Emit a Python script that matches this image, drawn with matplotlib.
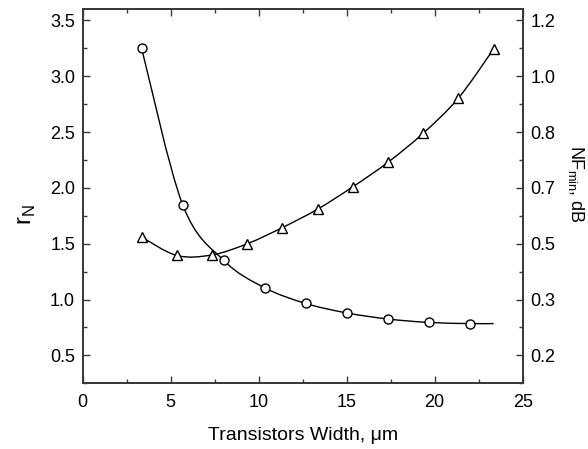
import numpy as np
import matplotlib
matplotlib.use("Agg")
import matplotlib.pyplot as plt
from matplotlib.path import Path
from matplotlib.patches import PathPatch
from matplotlib.ticker import MultipleLocator, FixedLocator, FixedFormatter

plt.rcParams['font.family'] = ['Liberation Sans', 'DejaVu Sans']

# r_N (left axis) - circles
circ_x = [3.35, 5.68, 8.02, 10.35, 12.68, 15.02, 17.35, 19.68, 22.02]
circ_y = [3.25, 1.85, 1.35, 1.105, 0.965, 0.88, 0.826, 0.795, 0.785]

# NF_min (right axis, drawn in left-axis units) - triangles
tri_x = [3.35, 5.35, 7.35, 9.35, 11.35, 13.35, 15.35, 17.35, 19.35, 21.35, 23.35]
tri_y = [1.56, 1.395, 1.40, 1.50, 1.645, 1.81, 2.01, 2.23, 2.49, 2.805, 3.245]

left_ticks = [0.5, 1.0, 1.5, 2.0, 2.5, 3.0, 3.5]
right_labels = ['0.2', '0.3', '0.5', '0.7', '0.8', '1.0', '1.2']


def smooth_path(x, y):
    """Catmull-Rom curve through the points, as cubic Bezier path."""
    pts = np.column_stack([x, y])
    n = len(pts)
    verts = [pts[0]]
    codes = [Path.MOVETO]
    for i in range(n - 1):
        p0 = pts[max(i - 1, 0)]
        p1 = pts[i]
        p2 = pts[i + 1]
        p3 = pts[min(i + 2, n - 1)]
        verts += [p1 + (p2 - p0) / 6, p2 - (p3 - p1) / 6, p2]
        codes += [Path.CURVE4] * 3
    return Path(verts, codes)


fig = plt.figure(figsize=(5.88, 4.49), dpi=100)
ax = fig.add_axes([0.1406, 0.1463, 0.7483, 0.8330])

# circle curve runs on a bit past the last point, as in the original
cx = circ_x + [tri_x[-1]]
cy = circ_y + [circ_y[-1]]
ax.add_patch(PathPatch(smooth_path(cx, cy), fill=False, lw=1.0, color='black'))
ax.add_patch(PathPatch(smooth_path(tri_x, tri_y), fill=False, lw=1.0, color='black'))

ax.plot(circ_x, circ_y, 'o', ms=6.5, mfc='white', mec='black', mew=1.0, zorder=3)
ax.plot(tri_x, tri_y, '^', ms=7.5, mfc='white', mec='black', mew=1.0, zorder=3)

ax.set_xlim(0, 25)
ax.set_ylim(0.25, 3.6)
ax.xaxis.set_major_locator(MultipleLocator(5))
ax.xaxis.set_minor_locator(MultipleLocator(2.5))
ax.yaxis.set_major_locator(FixedLocator(left_ticks))
ax.yaxis.set_minor_locator(MultipleLocator(0.25))
ax.tick_params(which='both', direction='in', top=True, right=False,
               labelsize=13, color='#3a3a3a')
ax.tick_params(which='major', length=5, width=1)
ax.tick_params(which='minor', length=3, width=1)
ax.tick_params(axis='x', pad=8)
ax.tick_params(axis='y', pad=5.5)

ax2 = ax.twinx()
ax2.set_ylim(ax.get_ylim())
ax2.yaxis.set_major_locator(FixedLocator(left_ticks))
ax2.yaxis.set_major_formatter(FixedFormatter(right_labels))
ax2.yaxis.set_minor_locator(MultipleLocator(0.25))
ax2.tick_params(which='both', direction='in', labelsize=13, color='#3a3a3a',
                pad=5.5)
ax2.tick_params(which='major', length=5, width=1)
ax2.tick_params(which='minor', length=3, width=1)

for a in (ax, ax2):
    for s in a.spines.values():
        s.set_color('#3a3a3a')
        s.set_linewidth(1.3)

ax.set_xlabel('Transistors Width, \u03bcm', fontsize=14)
ax.xaxis.set_label_coords(0.5, -0.116)
ax.set_ylabel(r'r$_\mathregular{N}$', fontsize=17)
ax.yaxis.set_label_coords(-0.102, 0.45)
ax2.set_ylabel(r'NF$_\mathregular{min}$, dB', fontsize=13, rotation=270,
               va='bottom')
ax2.yaxis.set_label_coords(1.098, 0.533)

fig.savefig('out.png', dpi=100)
